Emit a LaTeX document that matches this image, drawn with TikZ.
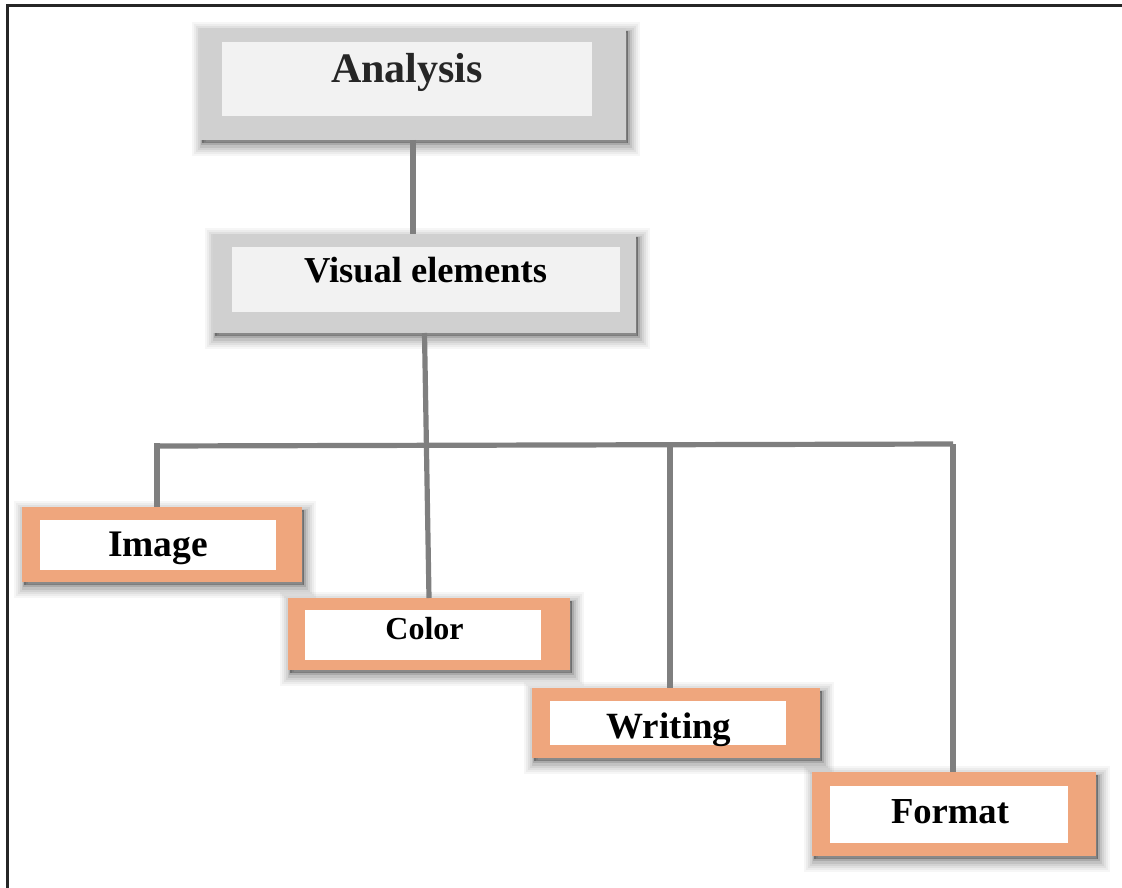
\documentclass[tikz,border=0pt]{standalone}
\usepackage{fontspec}
\setmainfont{Liberation Serif}
\usetikzlibrary{calc}
\definecolor{gOut}{HTML}{D0D0D0}
\definecolor{gIn}{HTML}{F2F2F2}
\definecolor{orOut}{HTML}{EFA67D}
\definecolor{connC}{HTML}{7F7F7F}
\definecolor{txtA}{HTML}{262626}
\tikzset{
  softshadow/.style={
    preaction={draw=black, opacity=0.035, line width=22pt, transform canvas={shift={(3pt,-5pt)}}},
    preaction={draw=black, opacity=0.04, line width=18pt, transform canvas={shift={(3pt,-5pt)}}},
    preaction={draw=black, opacity=0.05, line width=14pt, transform canvas={shift={(3pt,-5pt)}}},
    preaction={draw=black, opacity=0.06, line width=10pt, transform canvas={shift={(3pt,-5pt)}}},
    preaction={draw=black, opacity=0.08, line width=6pt, transform canvas={shift={(3pt,-5pt)}}},
    preaction={draw=black, opacity=0.12, line width=2.5pt, transform canvas={shift={(2.5pt,-4pt)}}},
    preaction={fill=black, opacity=0.35, transform canvas={shift={(2pt,-3pt)}}}
  },
  outerbox/.style={rectangle, inner sep=0pt, outer sep=0pt, anchor=north west, softshadow},
  grayouter/.style={outerbox, fill=gOut},
  orangeouter/.style={outerbox, fill=orOut},
  innerbox/.style={rectangle, inner sep=0pt, outer sep=0pt, anchor=north west},
  lbl/.style={inner sep=0pt, anchor=base, font=\bfseries},
  conn/.style={draw=connC, line width=5.2pt}
}
\begin{document}
\begin{tikzpicture}[x=1pt, y=-1pt]
\useasboundingbox (0,0) rectangle (1122,888);
% frame
\coordinate (fTL) at (7.5,5.5);
\coordinate (fTR) at (1122,5.5);
\coordinate (fBL) at (7.5,888);
\draw[line width=2.2pt, black!85] (fTR) -- (fTL) -- (fBL);

% Analysis
\node[grayouter, minimum width=426pt, minimum height=112pt] (anO) at (200,28) {};
\node[innerbox, fill=gIn, minimum width=370pt, minimum height=74pt] (anI) at (222,42) {};
\node[lbl, text=txtA, font=\bfseries\fontsize{42}{48}\selectfont] (an) at (407,83) {Analysis};

% Visual elements
\node[grayouter, minimum width=423pt, minimum height=99pt] (viO) at (213,234) {};
\node[innerbox, fill=gIn, minimum width=388pt, minimum height=65pt] (viI) at (232,247) {};
\node[lbl, font=\bfseries\fontsize{36.5}{42}\selectfont] (vi) at (425.5,282) {Visual elements};

% Image
\node[orangeouter, minimum width=280pt, minimum height=75pt] (imO) at (22,507) {};
\node[innerbox, fill=white, minimum width=236pt, minimum height=50pt] (imI) at (40,520) {};
\node[lbl, font=\bfseries\fontsize{37.5}{42}\selectfont] (im) at (158,556) {Image};

% Color
\node[orangeouter, minimum width=282pt, minimum height=72pt] (coO) at (288,598) {};
\node[innerbox, fill=white, minimum width=236pt, minimum height=50pt] (coI) at (305,610) {};
\node[lbl, font=\bfseries\fontsize{32}{38}\selectfont] (co) at (424.5,639) {Color};

% Writing
\node[orangeouter, minimum width=288pt, minimum height=70pt] (wrO) at (532,688) {};
\node[innerbox, fill=white, minimum width=236pt, minimum height=44pt] (wrI) at (550,701) {};
\node[lbl, font=\bfseries\fontsize{37}{42}\selectfont] (wr) at (669,738) {Writing};

% Format
\node[orangeouter, minimum width=284pt, minimum height=84pt] (foO) at (812,772) {};
\node[innerbox, fill=white, minimum width=238pt, minimum height=57pt] (foI) at (830,786) {};
\node[lbl, font=\bfseries\fontsize{36.6}{42}\selectfont] (fo) at (950,823) {Format};

% connectors
\coordinate (busL) at (157,446);
\coordinate (busR) at (953,444);
\coordinate (busW) at (670,445);
\draw[conn] (anO.south) -- (anO.south |- viO.north);
\draw[conn] (viO.south) -- (coO.north);
\draw[conn] (busL) -- (busR);
\draw[conn] ($(busL)+(0,-2.6)$) -- (busL |- imO.north);
\draw[conn] (busW) -- (busW |- wrO.north);
\draw[conn] (busR) -- (busR |- foO.north);
\end{tikzpicture}
\end{document}
